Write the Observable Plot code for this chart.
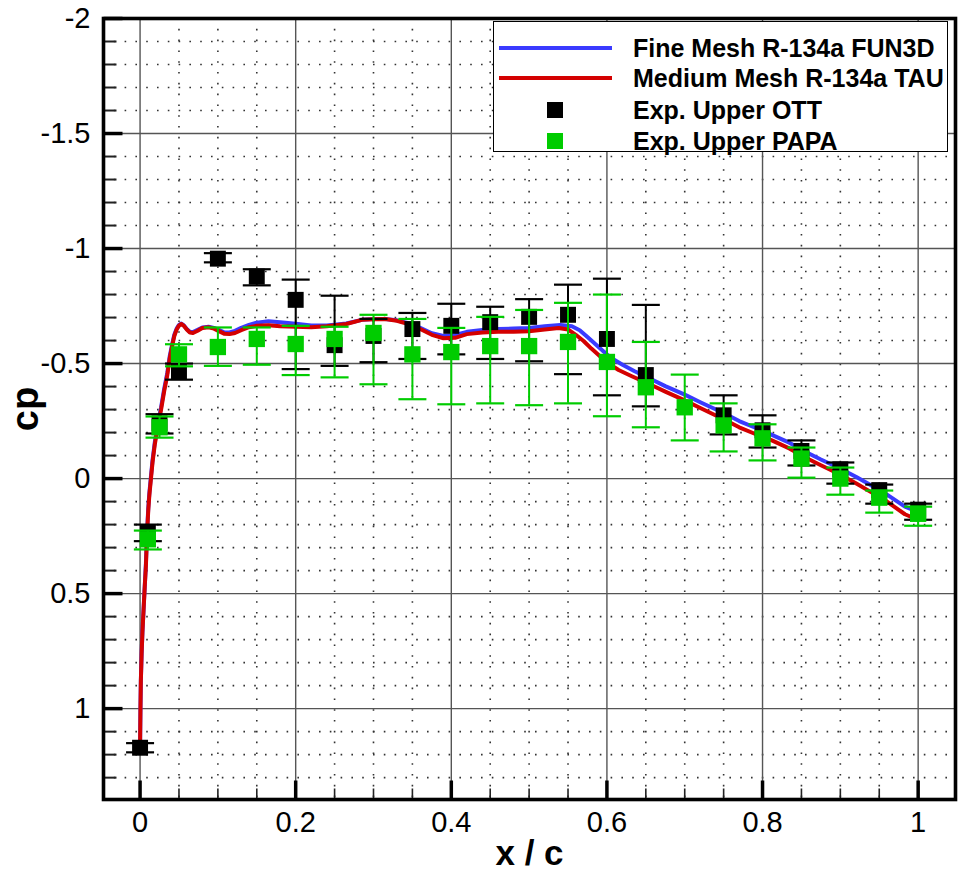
<!DOCTYPE html>
<html><head><meta charset="utf-8">
<script src="https://cdn.jsdelivr.net/npm/d3@7"></script>
<script src="https://cdn.jsdelivr.net/npm/@observablehq/plot@0.6"></script>
<style>
body{margin:0;background:#fff;}
#wrap{position:relative;width:958px;height:871px;overflow:hidden;}
.lg{position:absolute;}
.lgt{position:absolute;left:633px;font-family:"Liberation Sans",Arial,sans-serif;font-weight:bold;font-size:25px;line-height:1;transform:translateY(-50%);white-space:nowrap;color:#000;}
</style></head><body><div id="wrap"></div>
<script>
// ---- ticks ----
const xMajor = [0, 0.2, 0.4, 0.6, 0.8, 1];
const xTickLabels = ["0", "0.2", "0.4", "0.6", "0.8", "1"];
const xMinor = [0.05, 0.1, 0.15, 0.25, 0.3, 0.35, 0.45, 0.5, 0.55, 0.65, 0.7, 0.75, 0.85, 0.9, 0.95];
const yMajor = [-2, -1.5, -1, -0.5, 0, 0.5, 1];
const yTickLabels = ["-2", "-1.5", "-1", "-0.5", "0", "0.5", "1"];
const yMinor = [-1.9, -1.8, -1.7, -1.6, -1.4, -1.3, -1.2, -1.1, -0.9, -0.8, -0.7, -0.6, -0.4, -0.3, -0.2, -0.1, 0.1, 0.2, 0.3, 0.4, 0.6, 0.7, 0.8, 0.9, 1.1, 1.2, 1.3];

// ---- Medium Mesh R-134a TAU (red) ----
const tauX = [0, 0.0005, 0.001, 0.002, 0.003, 0.0045, 0.006, 0.0075, 0.009, 0.0105, 0.012, 0.014, 0.016, 0.019, 0.023, 0.027, 0.031, 0.035, 0.038, 0.041, 0.044, 0.047, 0.05, 0.053, 0.056, 0.06, 0.064, 0.068, 0.074, 0.08, 0.088, 0.095, 0.102, 0.108, 0.115, 0.122, 0.13, 0.14, 0.15, 0.165, 0.18, 0.2, 0.22, 0.24, 0.265, 0.285, 0.3, 0.315, 0.33, 0.345, 0.36, 0.375, 0.39, 0.405, 0.42, 0.44, 0.46, 0.48, 0.5, 0.52, 0.538, 0.55, 0.56, 0.57, 0.58, 0.59, 0.6, 0.615, 0.632, 0.655, 0.675, 0.7, 0.72, 0.75, 0.77, 0.79, 0.812, 0.835, 0.855, 0.875, 0.897, 0.92, 0.94, 0.96, 0.983, 1.0];
const tauCp = [1.16, 1.0, 0.88, 0.76, 0.67, 0.57, 0.47, 0.38, 0.24, 0.14, 0.07, 0.0, -0.07, -0.15, -0.23, -0.30, -0.38, -0.45, -0.52, -0.573, -0.62, -0.648, -0.665, -0.672, -0.665, -0.648, -0.635, -0.633, -0.643, -0.655, -0.658, -0.652, -0.64, -0.63, -0.628, -0.633, -0.645, -0.658, -0.664, -0.667, -0.662, -0.66, -0.658, -0.662, -0.672, -0.69, -0.693, -0.694, -0.686, -0.672, -0.65, -0.625, -0.61, -0.612, -0.628, -0.635, -0.638, -0.638, -0.64, -0.648, -0.655, -0.648, -0.625, -0.598, -0.565, -0.535, -0.505, -0.472, -0.445, -0.41, -0.378, -0.34, -0.307, -0.258, -0.223, -0.195, -0.166, -0.13, -0.092, -0.058, -0.022, 0.02, 0.06, 0.10, 0.155, 0.18];

// ---- Fine Mesh R-134a FUN3D (blue) ----
const funX = [0, 0.0005, 0.001, 0.002, 0.003, 0.0045, 0.006, 0.0075, 0.009, 0.0105, 0.012, 0.014, 0.016, 0.019, 0.023, 0.027, 0.031, 0.035, 0.038, 0.041, 0.044, 0.047, 0.05, 0.053, 0.056, 0.06, 0.064, 0.068, 0.074, 0.08, 0.088, 0.095, 0.102, 0.108, 0.115, 0.122, 0.13, 0.14, 0.15, 0.165, 0.18, 0.2, 0.22, 0.24, 0.265, 0.285, 0.3, 0.315, 0.33, 0.345, 0.36, 0.375, 0.39, 0.405, 0.42, 0.44, 0.46, 0.48, 0.5, 0.52, 0.54, 0.555, 0.565, 0.575, 0.585, 0.595, 0.605, 0.62, 0.635, 0.655, 0.675, 0.7, 0.72, 0.75, 0.77, 0.79, 0.812, 0.835, 0.855, 0.875, 0.897, 0.92, 0.94, 0.96, 0.983, 1.0];
const funCp = [1.16, 1.0, 0.88, 0.76, 0.67, 0.57, 0.47, 0.37, 0.23, 0.13, 0.06, -0.01, -0.08, -0.16, -0.24, -0.31, -0.39, -0.46, -0.53, -0.58, -0.625, -0.652, -0.668, -0.674, -0.667, -0.65, -0.638, -0.637, -0.647, -0.657, -0.66, -0.655, -0.645, -0.636, -0.635, -0.642, -0.655, -0.668, -0.678, -0.684, -0.68, -0.673, -0.665, -0.665, -0.674, -0.69, -0.694, -0.694, -0.688, -0.675, -0.655, -0.632, -0.62, -0.624, -0.638, -0.646, -0.65, -0.652, -0.655, -0.662, -0.668, -0.662, -0.645, -0.615, -0.585, -0.555, -0.525, -0.495, -0.468, -0.435, -0.402, -0.365, -0.332, -0.285, -0.25, -0.222, -0.19, -0.155, -0.117, -0.083, -0.048, -0.008, 0.03, 0.07, 0.122, 0.145];

// ---- Exp. Upper OTT (black) ----
const ottX = [0, 0.01, 0.025, 0.05, 0.1, 0.15, 0.2, 0.25, 0.3, 0.35, 0.4, 0.45, 0.5, 0.55, 0.6, 0.65, 0.75, 0.8, 0.85, 0.9, 0.95, 1.0];
const ottCp = [1.17, 0.235, -0.24, -0.463, -0.956, -0.878, -0.777, -0.58, -0.62, -0.65, -0.664, -0.68, -0.703, -0.712, -0.607, -0.45, -0.275, -0.21, -0.12, -0.04, 0.05, 0.135];
const ottLo = [1.15, 0.2, -0.28, -0.5, -0.98, -0.91, -0.865, -0.795, -0.694, -0.72, -0.76, -0.747, -0.78, -0.843, -0.869, -0.755, -0.362, -0.275, -0.166, -0.07, 0.026, 0.109];
const ottHi = [1.19, 0.272, -0.196, -0.43, -0.94, -0.84, -0.476, -0.49, -0.506, -0.52, -0.54, -0.52, -0.51, -0.454, -0.362, -0.314, -0.192, -0.135, -0.057, 0.022, 0.109, 0.179];

// ---- Exp. Upper PAPA (green) ----
const papaX = [0.01, 0.025, 0.05, 0.1, 0.15, 0.2, 0.25, 0.3, 0.35, 0.4, 0.45, 0.5, 0.55, 0.6, 0.65, 0.7, 0.75, 0.8, 0.85, 0.9, 0.95, 1.0];
const papaCp = [0.264, -0.223, -0.54, -0.572, -0.607, -0.585, -0.607, -0.633, -0.54, -0.55, -0.576, -0.576, -0.594, -0.507, -0.397, -0.31, -0.231, -0.175, -0.087, 0.0, 0.083, 0.153];
const papaLo = [0.226, -0.27, -0.584, -0.657, -0.657, -0.664, -0.66, -0.712, -0.694, -0.655, -0.703, -0.733, -0.764, -0.8, -0.594, -0.452, -0.327, -0.236, -0.135, -0.048, 0.052, 0.122];
const papaHi = [0.308, -0.178, -0.488, -0.49, -0.495, -0.45, -0.44, -0.41, -0.345, -0.323, -0.327, -0.319, -0.327, -0.271, -0.223, -0.166, -0.118, -0.079, -0.004, 0.07, 0.148, 0.205];

const seriesNames = ["Fine Mesh R-134a FUN3D", "Medium Mesh R-134a TAU", "Exp. Upper OTT", "Exp. Upper PAPA"];
const seriesColors = ["#3a3aff", "#d40000", "#000000", "#00cc00"];

const fun = funX.map((x, i) => ({x, cp: funCp[i]}));
const tau = tauX.map((x, i) => ({x, cp: tauCp[i]}));
const ott = ottX.map((x, i) => ({x, cp: ottCp[i], lo: ottLo[i], hi: ottHi[i]}));
const papa = papaX.map((x, i) => ({x, cp: papaCp[i], lo: papaLo[i], hi: papaHi[i]}));

const hTick = len => ({draw(ctx) { ctx.moveTo(0, 0); ctx.lineTo(len, 0); }});
const vTick = len => ({draw(ctx) { ctx.moveTo(0, 0); ctx.lineTo(0, -len); }});
const cap = w => ({draw(ctx) { ctx.moveTo(-w / 2, 0); ctx.lineTo(w / 2, 0); }});

const tickFont = "Liberation Sans, Arial, sans-serif";

const chart = Plot.plot({
  width: 958,
  height: 871,
  marginLeft: 103,
  marginRight: 3,
  marginTop: 18,
  marginBottom: 72,
  x: {domain: [-0.047, 1.048], axis: null},
  y: {domain: [1.395, -2], axis: null},
  style: {background: "#fff", overflow: "visible"},
  marks: [
    Plot.ruleX(xMinor, {x: d => d, stroke: "#333", strokeWidth: 1.6, strokeDasharray: "1.6,9.2"}),
    Plot.ruleY(yMinor, {y: d => d, stroke: "#333", strokeWidth: 1.6, strokeDasharray: "1.6,9.2"}),
    Plot.ruleX(xMajor, {x: d => d, stroke: "#555", strokeWidth: 1.4}),
    Plot.ruleY(yMajor, {y: d => d, stroke: "#555", strokeWidth: 1.4}),
    Plot.line(fun, {x: "x", y: "cp", stroke: seriesColors[0], strokeWidth: 4, strokeLinejoin: "round"}),
    Plot.line(tau, {x: "x", y: "cp", stroke: seriesColors[1], strokeWidth: 4, strokeLinejoin: "round"}),
    Plot.ruleX(ott, {x: "x", y1: "lo", y2: "hi", stroke: seriesColors[2], strokeWidth: 2}),
    Plot.dot(ott, {x: "x", y: "lo", symbol: cap(28), fill: "none", stroke: seriesColors[2], strokeWidth: 2.2}),
    Plot.dot(ott, {x: "x", y: "hi", symbol: cap(28), fill: "none", stroke: seriesColors[2], strokeWidth: 2.2}),
    Plot.dot(ott, {x: "x", y: "cp", symbol: "square", r: 9, fill: seriesColors[2], stroke: "none"}),
    Plot.ruleX(papa, {x: "x", y1: "lo", y2: "hi", stroke: seriesColors[3], strokeWidth: 2}),
    Plot.dot(papa, {x: "x", y: "lo", symbol: cap(28), fill: "none", stroke: seriesColors[3], strokeWidth: 2.2}),
    Plot.dot(papa, {x: "x", y: "hi", symbol: cap(28), fill: "none", stroke: seriesColors[3], strokeWidth: 2.2}),
    Plot.dot(papa, {x: "x", y: "cp", symbol: "square", r: 9.2, fill: seriesColors[3], stroke: "none"}),
    // ticks
    Plot.dot(yMinor, {y: d => d, frameAnchor: "left", symbol: hTick(13), fill: "none", stroke: "#222", strokeWidth: 2}),
    Plot.dot(yMajor, {y: d => d, frameAnchor: "left", symbol: hTick(19), fill: "none", stroke: "#000", strokeWidth: 3.5}),
    Plot.dot(xMinor, {x: d => d, frameAnchor: "bottom", symbol: vTick(11), fill: "none", stroke: "#222", strokeWidth: 1.6}),
    Plot.dot(xMajor, {x: d => d, frameAnchor: "bottom", symbol: vTick(19), fill: "none", stroke: "#000", strokeWidth: 3.5}),
    Plot.frame({stroke: "#000", strokeWidth: 3.6}),
    // tick labels
    Plot.text(yMajor, {y: d => d, text: (d, i) => yTickLabels[i], frameAnchor: "left", textAnchor: "end", dx: -13, fontSize: 29, fontFamily: tickFont, fill: "#000"}),
    Plot.text(xMajor, {x: d => d, text: (d, i) => xTickLabels[i], frameAnchor: "bottom", lineAnchor: "top", dy: 12, fontSize: 29, fontFamily: tickFont, fill: "#000"}),
    // axis titles
    Plot.text(["x / c"], {frameAnchor: "bottom", textAnchor: "middle", lineAnchor: "middle", dy: 54, fontSize: 35, fontWeight: "bold", fontFamily: tickFont, fill: "#000"}),
    Plot.text(["cp"], {frameAnchor: "left", textAnchor: "middle", rotate: -90, lineAnchor: "middle", dx: -78, fontSize: 38, fontWeight: "bold", fontFamily: tickFont, fill: "#000"})
  ]
});
const wrap = document.getElementById("wrap");
wrap.appendChild(chart);

// legend (inside plot area, top right)
function addEl(cls, style, text) {
  const el = document.createElement("div");
  el.className = cls;
  Object.assign(el.style, style);
  if (text) el.textContent = text;
  wrap.appendChild(el);
  return el;
}
addEl("lg", {left: "493px", top: "21px", width: "455px", height: "131px", boxSizing: "border-box", border: "1.5px solid #000", background: "#fff"});
const rowY = [48, 78, 110, 141];
addEl("lg", {left: "499px", top: (rowY[0] - 2) + "px", width: "113px", height: "4px", background: seriesColors[0]});
addEl("lg", {left: "499px", top: (rowY[1] - 2) + "px", width: "113px", height: "4px", background: seriesColors[1]});
addEl("lg", {left: "547px", top: (rowY[2] - 8) + "px", width: "16px", height: "16px", background: seriesColors[2]});
addEl("lg", {left: "547px", top: (rowY[3] - 8) + "px", width: "16px", height: "16px", background: seriesColors[3]});
seriesNames.forEach((name, i) => addEl("lgt", {top: rowY[i] + "px"}, name));
</script>
</body></html>
